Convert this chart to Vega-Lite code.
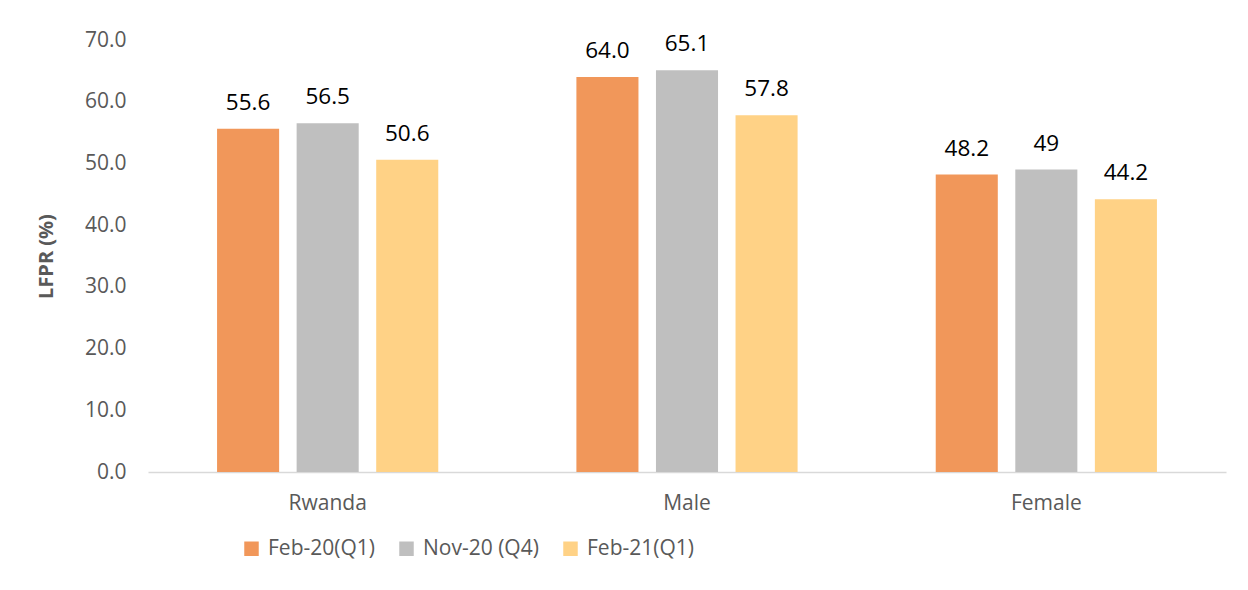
{
  "$schema": "https://vega.github.io/schema/vega-lite/v6.json",
  "autosize": {"type": "none"},
  "width": 1078,
  "height": 432,
  "padding": {"left": 148, "top": 40, "right": 22, "bottom": 118},
  "background": "white",
  "config": {
    "font": "Open Sans",
    "view": {"stroke": null},
    "axis": {"labelFont": "Open Sans", "titleFont": "Open Sans"},
    "legend": {"labelFont": "Open Sans"}
  },
  "data": {
    "values": [
      {"group": "Rwanda", "period": "Feb-20(Q1)", "value": 55.6, "label": "55.6"},
      {"group": "Rwanda", "period": "Nov-20 (Q4)", "value": 56.5, "label": "56.5"},
      {"group": "Rwanda", "period": "Feb-21(Q1)", "value": 50.6, "label": "50.6"},
      {"group": "Male", "period": "Feb-20(Q1)", "value": 64.0, "label": "64.0"},
      {"group": "Male", "period": "Nov-20 (Q4)", "value": 65.1, "label": "65.1"},
      {"group": "Male", "period": "Feb-21(Q1)", "value": 57.8, "label": "57.8"},
      {"group": "Female", "period": "Feb-20(Q1)", "value": 48.2, "label": "48.2"},
      {"group": "Female", "period": "Nov-20 (Q4)", "value": 49, "label": "49"},
      {"group": "Female", "period": "Feb-21(Q1)", "value": 44.2, "label": "44.2"}
    ]
  },
  "encoding": {
    "x": {
      "field": "group", "type": "nominal", "sort": ["Rwanda", "Male", "Female"],
      "scale": {"paddingInner": 0, "paddingOuter": 0},
      "axis": {
        "title": null, "labelAngle": 0, "ticks": false,
        "domainColor": "#D9D9D9", "domainWidth": 1.5,
        "labelColor": "#595959", "labelFontSize": 21, "labelPadding": 20
      }
    },
    "xOffset": {
      "field": "period", "type": "nominal",
      "sort": ["Feb-20(Q1)", "Nov-20 (Q4)", "Feb-21(Q1)"],
      "scale": {"paddingInner": 0.22, "paddingOuter": 0.868}
    },
    "y": {
      "field": "value", "type": "quantitative",
      "scale": {"domain": [0, 70], "nice": false},
      "axis": {
        "title": "LFPR (%)", "titleFontWeight": "bold", "titleFontSize": 20,
        "titleColor": "#595959", "titlePadding": 28,
        "values": [0, 10, 20, 30, 40, 50, 60, 70], "format": ".1f",
        "grid": false, "domain": false, "ticks": false,
        "labelColor": "#595959", "labelFontSize": 21, "labelPadding": 22
      }
    }
  },
  "layer": [
    {
      "mark": {"type": "bar"},
      "encoding": {
        "color": {
          "field": "period", "type": "nominal",
          "scale": {
            "domain": ["Feb-20(Q1)", "Nov-20 (Q4)", "Feb-21(Q1)"],
            "range": ["#F1975A", "#BFBFBF", "#FFD286"]
          },
          "legend": {
            "title": null, "orient": "none", "direction": "horizontal",
            "legendX": 93, "legendY": 498,
            "symbolType": "square", "symbolSize": 210, "symbolStrokeWidth": 0,
            "labelFontSize": 21, "labelColor": "#595959", "labelOffset": 6,
            "columnPadding": 21
          }
        }
      }
    },
    {
      "mark": {"type": "text", "baseline": "alphabetic", "dy": -19, "fontSize": 22.5, "color": "#000000"},
      "encoding": {"text": {"field": "label", "type": "nominal"}}
    }
  ]
}
